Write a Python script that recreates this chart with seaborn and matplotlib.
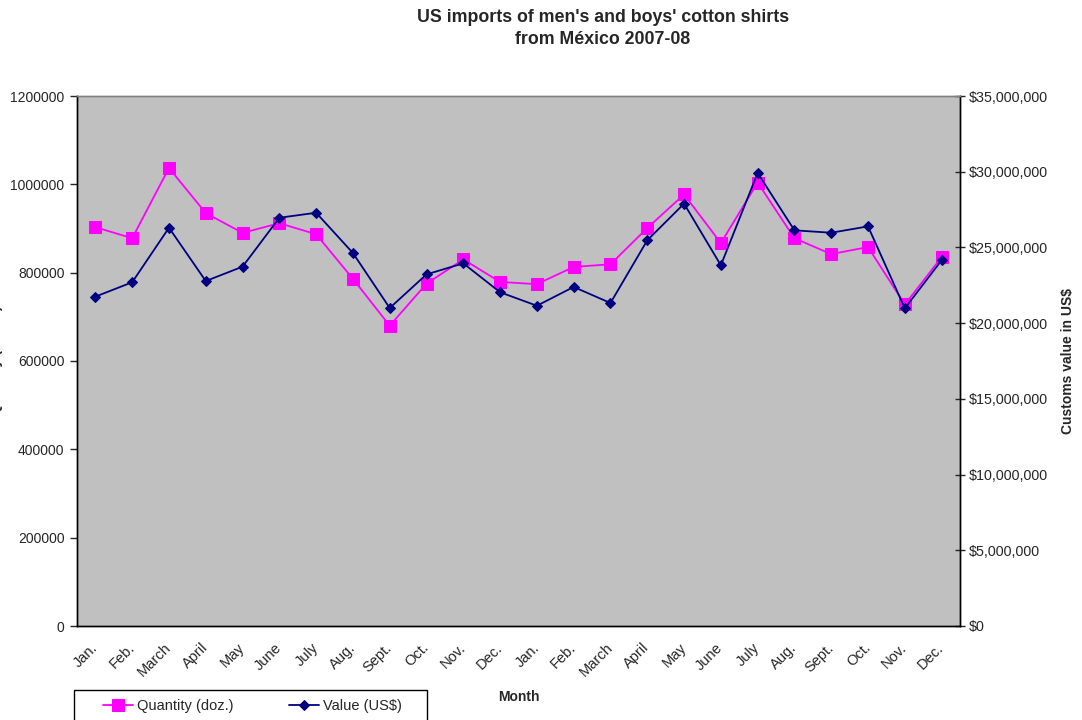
import matplotlib
matplotlib.use("Agg")
import matplotlib.pyplot as plt
import matplotlib.ticker as mticker
from matplotlib.patches import Rectangle
import pandas as pd
import seaborn as sns

months = ["Jan.", "Feb.", "March", "April", "May", "June", "July", "Aug.",
          "Sept.", "Oct.", "Nov.", "Dec."] * 2
quantity_doz = [903000, 878000, 1037000, 935000, 890000, 912000, 887000, 786000,
                680000, 775000, 830000, 779000, 774000, 813000, 819000, 901000,
                977000, 867000, 1004000, 878000, 842000, 858000, 728000, 835000]
value_usd = [21750000, 22700000, 26300000, 22780000, 23730000, 26960000, 27290000, 24630000,
             21000000, 23220000, 23950000, 22040000, 21150000, 22390000, 21330000, 25470000,
             27890000, 23820000, 29920000, 26130000, 25970000, 26390000, 20980000, 24150000]

df = pd.DataFrame({"idx": range(len(months)), "month": months,
                   "qty": quantity_doz, "val": value_usd})

sns.set_theme(style="white")
plt.rcParams["font.family"] = ["Liberation Sans", "DejaVu Sans"]

fig = plt.figure(figsize=(10.82, 7.2), dpi=100)
ax = fig.add_axes([77 / 1082, 1 - 626 / 720, 883 / 1082, 530 / 720])
ax.set_facecolor("#c0c0c0")
ax2 = ax.twinx()

sns.lineplot(data=df, x="idx", y="qty", ax=ax, color="#ff00ff", marker="s",
             markersize=8, markeredgecolor="#ff00ff", linewidth=1.3, label="Quantity (doz.)",
             legend=False)
sns.lineplot(data=df, x="idx", y="val", ax=ax2, color="#000080", marker="D",
             markersize=5.5, markeredgecolor="#000080", linewidth=1.3, label="Value (US$)",
             legend=False)

ax.set_xlim(-0.5, len(months) - 0.5)
ax.set_ylim(0, 1200000)
ax2.set_ylim(0, 35000000)
ax.yaxis.set_major_locator(mticker.MultipleLocator(200000))
ax.yaxis.set_major_formatter(mticker.FuncFormatter(lambda v, p: f"{int(v)}"))
ax2.yaxis.set_major_locator(mticker.MultipleLocator(5000000))
ax2.yaxis.set_major_formatter(mticker.FuncFormatter(lambda v, p: f"${int(v):,}"))

ax.set_xticks([i - 0.5 for i in range(len(months) + 1)])
ax.set_xticklabels([])
ax.set_xticks(range(len(months)), minor=True)
ax.set_xticklabels(months, minor=True, rotation=45, ha="right", va="center",
                   rotation_mode="anchor")
ax.tick_params(axis="x", which="major", direction="inout", length=7, width=1, colors="black")
ax.tick_params(axis="x", which="minor", length=0, pad=14, labelsize=10.5)
ax.tick_params(axis="y", direction="out", length=5, width=1, labelsize=10, pad=4, left=True)
ax2.tick_params(axis="y", direction="inout", length=7, width=1, labelsize=10.3, pad=3, right=True)

for a in (ax, ax2):
    for s in a.spines.values():
        s.set_color("black")
        s.set_linewidth(1)
    a.spines["top"].set_color("#808080")

ax.set_xlabel("Month", fontsize=10, fontweight="bold")
ax.xaxis.set_label_coords(0.5, -0.12)
ax.set_ylabel("")
ax2.set_ylabel("Customs value in US$", fontsize=10, fontweight="bold", labelpad=9)
fig.text(-0.004, 0.5, "Quantity (dozen)", rotation=90, ha="center", va="center",
         fontsize=10, fontweight="bold")

fig.text(603 / 1082, 1 - 17 / 720, "US imports of men's and boys' cotton shirts",
         ha="center", va="center", fontsize=12.8, fontweight="bold")
fig.text(603 / 1082, 1 - 39 / 720, "from México 2007-08",
         ha="center", va="center", fontsize=12.8, fontweight="bold")

# legend box runs past the bottom edge, as in the original
fig.patches.append(Rectangle((74 / 1082, -0.05), 353 / 1082, 0.05 + 1 - 690 / 720,
                             transform=fig.transFigure, facecolor="white",
                             edgecolor="black", linewidth=1, zorder=5))
h1, l1 = ax.get_legend_handles_labels()
h2, l2 = ax2.get_legend_handles_labels()
leg = fig.legend(h1 + h2, l1 + l2, loc="upper left", bbox_to_anchor=(103 / 1082, 1 - 699 / 720),
                 borderaxespad=0, borderpad=0, ncol=2, frameon=False, fontsize=10.5,
                 handlelength=2.05, handletextpad=0.3, columnspacing=3.8)
leg.set_zorder(6)

fig.savefig("out.png", dpi=100)
